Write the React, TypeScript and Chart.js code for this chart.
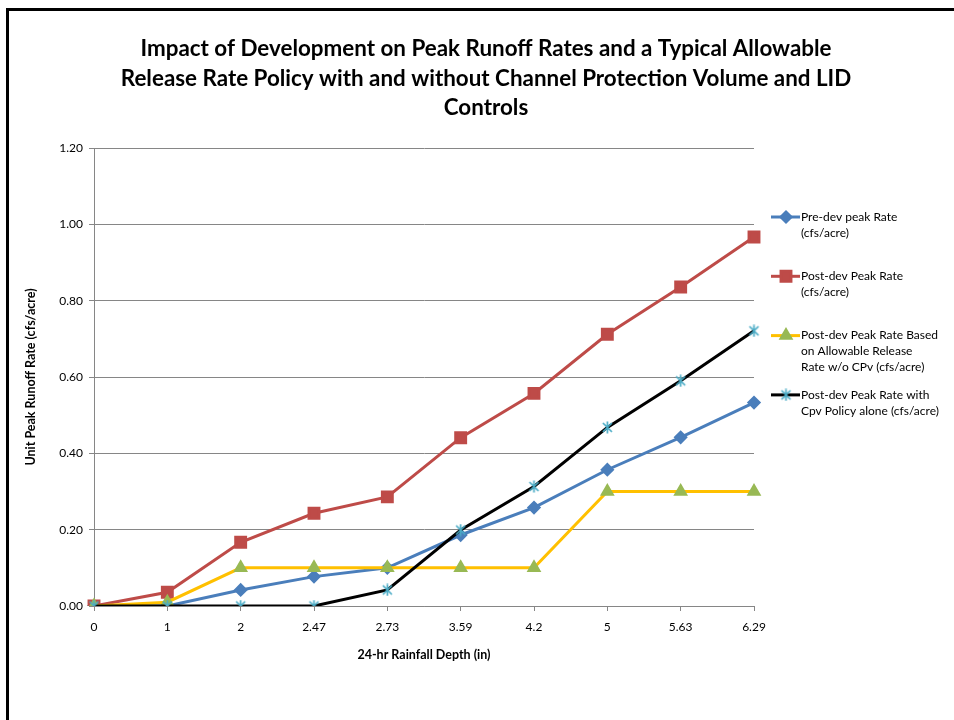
import React, { useEffect, useRef } from 'react';
import { Chart, registerables } from 'chart.js';
import { drawPoint } from 'chart.js/helpers';

Chart.register(...registerables);

// 24-hr rainfall depths (in) used as categories
const rainfallDepths = ['0', '1', '2', '2.47', '2.73', '3.59', '4.2', '5', '5.63', '6.29'];

// Unit peak runoff rates (cfs/acre)
const preDevRate = [0, 0, 0.042, 0.077, 0.1, 0.186, 0.258, 0.357, 0.442, 0.533];
const postDevRate = [0, 0.036, 0.167, 0.243, 0.286, 0.441, 0.557, 0.712, 0.836, 0.967];
const allowableReleaseRate = [0, 0.01, 0.1, 0.1, 0.1, 0.1, 0.1, 0.3, 0.3, 0.3];
const cpvPolicyRate = [0, 0, 0, 0, 0.042, 0.199, 0.313, 0.468, 0.59, 0.721];

const yTicks = [0, 0.2, 0.4, 0.6, 0.8, 1.0, 1.2];

const titleLines = [
  'Impact of Development on Peak Runoff Rates and a Typical Allowable',
  'Release Rate Policy with and without Channel Protection Volume and LID',
  'Controls',
];

const legendLabels = [
  ['Pre-dev peak Rate', '(cfs/acre)'],
  ['Post-dev Peak Rate', '(cfs/acre)'],
  ['Post-dev Peak Rate Based', 'on Allowable Release', 'Rate w/o CPv (cfs/acre)'],
  ['Post-dev Peak Rate with', 'Cpv Policy alone (cfs/acre)'],
];

const FONT = 'Lato';
const GRID = '#868686';

// Asterisk-style marker: an X crossed by a vertical stroke
function makeStar(): HTMLCanvasElement {
  const c = document.createElement('canvas');
  c.width = 13;
  c.height = 13;
  const g = c.getContext('2d')!;
  g.strokeStyle = '#4BACC6';
  g.lineWidth = 1.7;
  g.beginPath();
  g.moveTo(2, 2); g.lineTo(11, 11);
  g.moveTo(11, 2); g.lineTo(2, 11);
  g.moveTo(6.5, 0.5); g.lineTo(6.5, 12.5);
  g.stroke();
  return c;
}

const framePlugin = {
  id: 'frame',
  beforeDraw(chart: any) {
    const { ctx, width, height } = chart;
    ctx.save();
    ctx.fillStyle = '#fff';
    ctx.fillRect(0, 0, width, height);
    ctx.fillStyle = '#000';
    ctx.fillRect(6, 8, 3, height - 8);
    ctx.fillRect(6, 8, width - 6, 3);
    ctx.restore();
  },
  afterDraw(chart: any) {
    const { ctx } = chart;
    ctx.save();
    // title
    ctx.fillStyle = '#000';
    ctx.font = `bold 22.4px ${FONT}`;
    ctx.textAlign = 'center';
    ctx.textBaseline = 'middle';
    titleLines.forEach((line, i) => ctx.fillText(line, 486, 49 + i * 29.5));

    // legend
    ctx.font = `12px ${FONT}`;
    ctx.textAlign = 'left';
    chart.data.datasets.forEach((ds: any, i: number) => {
      const y = 217 + i * 59.3;
      ctx.strokeStyle = ds.borderColor;
      ctx.lineWidth = ds.borderWidth;
      ctx.beginPath();
      ctx.moveTo(771, y);
      ctx.lineTo(800, y);
      ctx.stroke();
      ctx.fillStyle = ds.pointBackgroundColor;
      ctx.strokeStyle = ds.pointBorderColor;
      drawPoint(ctx, { pointStyle: ds.pointStyle, radius: ds.pointRadius, rotation: 0, borderWidth: 1 }, 786, y);
      ctx.fillStyle = '#000';
      legendLabels[i].forEach((t, j) => ctx.fillText(t, 801, y + j * 16));
    });
    ctx.restore();
  },
};

export default function App() {
  const ref = useRef<HTMLCanvasElement>(null);

  useEffect(() => {
    const star = makeStar();
    const chart = new Chart(ref.current!, {
      type: 'line',
      data: {
        labels: rainfallDepths,
        datasets: [
          {
            label: 'Pre-dev peak Rate (cfs/acre)',
            data: preDevRate,
            borderColor: '#4A7EBB',
            borderWidth: 3,
            pointStyle: 'rectRot',
            pointRadius: 5,
            pointBackgroundColor: '#4A7EBB',
            pointBorderColor: '#4A7EBB',
            order: 4,
          },
          {
            label: 'Post-dev Peak Rate (cfs/acre)',
            data: postDevRate,
            borderColor: '#BE4B48',
            borderWidth: 3,
            pointStyle: 'rect',
            pointRadius: 7,
            pointBackgroundColor: '#BE4B48',
            pointBorderColor: '#BE4B48',
            order: 3,
          },
          {
            label: 'Post-dev Peak Rate Based on Allowable Release Rate w/o CPv (cfs/acre)',
            data: allowableReleaseRate,
            borderColor: '#FFC000',
            borderWidth: 3,
            pointStyle: 'triangle',
            pointRadius: 5.5,
            pointBackgroundColor: '#98B954',
            pointBorderColor: '#98B954',
            order: 2,
          },
          {
            label: 'Post-dev Peak Rate with Cpv Policy alone (cfs/acre)',
            data: cpvPolicyRate,
            borderColor: '#000000',
            borderWidth: 3,
            pointStyle: star as any,
            pointRadius: 6,
            pointBackgroundColor: '#4BACC6',
            pointBorderColor: '#4BACC6',
            order: 1,
          },
        ],
      },
      options: {
        animation: false,
        responsive: false,
        devicePixelRatio: 1,
        events: [],
        layout: { padding: { left: 20, top: 148, right: 200, bottom: 54 } },
        plugins: { legend: { display: false }, title: { display: false }, tooltip: { enabled: false } },
        elements: { line: { tension: 0 } },
        scales: {
          x: {
            offset: false,
            grid: { display: true, drawOnChartArea: false, drawTicks: true, tickLength: 5, color: GRID },
            border: { color: GRID, width: 1 },
            ticks: { color: '#000', font: { family: FONT, size: 12 }, padding: 9, autoSkip: false, maxRotation: 0 },
            title: {
              display: true,
              text: '24-hr Rainfall Depth (in)',
              color: '#000',
              font: { family: FONT, size: 12.5, weight: 'bold' },
              padding: { top: 4, bottom: 4 },
            },
            afterFit(scale: any) { scale.height = 60; },
          },
          y: {
            min: 0,
            max: 1.2,
            afterBuildTicks(scale: any) { scale.ticks = yTicks.map((v) => ({ value: v })); },
            ticks: {
              color: '#000',
              font: { family: FONT, size: 12 },
              padding: 6,
              callback: (v: any) => Number(v).toFixed(2),
            },
            grid: { color: GRID, tickLength: 5 },
            border: { color: GRID, width: 1 },
            title: {
              display: true,
              text: 'Unit Peak Runoff Rate (cfs/acre)',
              color: '#000',
              font: { family: FONT, size: 12.5, weight: 'bold' },
              padding: { top: 3, bottom: 4 },
            },
            afterFit(scale: any) { scale.width = 74; },
          },
        },
      },
      plugins: [framePlugin],
    });
    return () => chart.destroy();
  }, []);

  return (
    <div style={{ position: 'fixed', left: 0, top: 0, width: 954, height: 720, background: '#fff' }}>
      <canvas ref={ref} width={954} height={720} style={{ display: 'block' }} />
    </div>
  );
}
